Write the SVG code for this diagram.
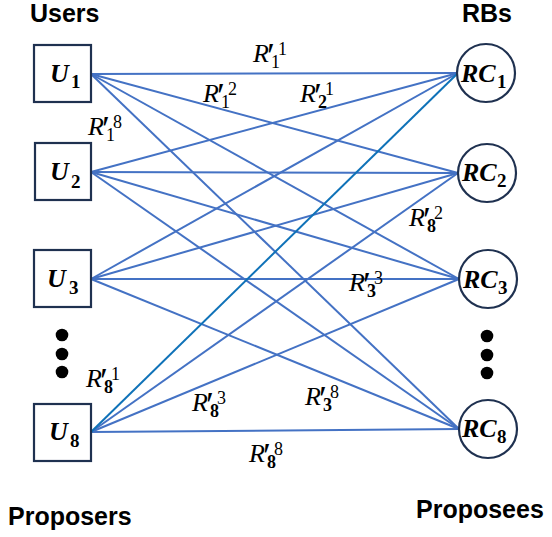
<svg xmlns="http://www.w3.org/2000/svg" width="552" height="537" viewBox="0 0 552 537">
<style>
.title{font-family:"Liberation Sans",Arial,sans-serif;font-weight:bold;font-size:25px;fill:#000}
.box{fill:#fff;stroke:#1f3150;stroke-width:2.2}
.nl{font-family:"Liberation Serif","DejaVu Serif",serif;font-style:italic;font-weight:bold;font-size:26px;fill:#000}
.ns{font-style:normal;font-size:19px}
.ml{font-family:"Liberation Serif","DejaVu Serif",serif;font-style:italic;font-size:26px;fill:#000}
.mp{font-style:normal;font-size:36px}
.ms{font-style:normal;font-size:18px}
.msb{font-style:normal;font-weight:bold;font-size:18px}
.edge{stroke:#4472c4;stroke-width:2;fill:none}
.edge2{stroke:#0f72b8;stroke-width:2;fill:none}
.dot{fill:#000}
</style>
<g id="connectors">
<line class="edge" x1="91" y1="74" x2="458" y2="73"/>
<line class="edge" x1="91" y1="74" x2="458" y2="173"/>
<line class="edge" x1="91" y1="74" x2="459" y2="279"/>
<line class="edge" x1="91" y1="74" x2="459" y2="429"/>
<line class="edge" x1="91" y1="172" x2="458" y2="73"/>
<line class="edge" x1="91" y1="172" x2="458" y2="173"/>
<line class="edge" x1="91" y1="172" x2="459" y2="279"/>
<line class="edge" x1="91" y1="172" x2="459" y2="429"/>
<line class="edge" x1="91" y1="279" x2="458" y2="73"/>
<line class="edge" x1="91" y1="279" x2="458" y2="173"/>
<line class="edge" x1="91" y1="279" x2="459" y2="279"/>
<line class="edge" x1="91" y1="279" x2="459" y2="429"/>
<line class="edge" x1="91" y1="432" x2="458" y2="173"/>
<line class="edge" x1="91" y1="432" x2="459" y2="279"/>
<line class="edge" x1="91" y1="432" x2="459" y2="429"/>
<line class="edge2" x1="91" y1="432" x2="458" y2="73"/>
</g>
<g id="titles">
<text class="title" x="30" y="22">Users</text>
<text class="title" x="462" y="22">RBs</text>
<text class="title" x="8" y="525">Proposers</text>
<text class="title" x="416" y="518">Proposees</text>
</g>
<g id="U1"><rect class="box" x="34" y="45" width="57" height="57"/><text class="nl" x="50" y="82">U<tspan class="ns" x="71" y="88">1</tspan></text></g>
<g id="U2"><rect class="box" x="35" y="143" width="56" height="57"/><text class="nl" x="50" y="180">U<tspan class="ns" x="71" y="188">2</tspan></text></g>
<g id="U3"><rect class="box" x="34" y="250" width="57" height="57"/><text class="nl" x="47" y="287">U<tspan class="ns" x="69" y="294">3</tspan></text></g>
<g id="U8"><rect class="box" x="34" y="404" width="57" height="57"/><text class="nl" x="49" y="440">U<tspan class="ns" x="70" y="447">8</tspan></text></g>
<g id="RC1"><circle class="box" cx="486" cy="73" r="29"/><text class="nl" x="461" y="82">RC<tspan class="ns" x="497" y="88">1</tspan></text></g>
<g id="RC2"><circle class="box" cx="487" cy="173" r="29"/><text class="nl" x="462" y="181">RC<tspan class="ns" x="497" y="187">2</tspan></text></g>
<g id="RC3"><circle class="box" cx="488" cy="279" r="29"/><text class="nl" x="463" y="288">RC<tspan class="ns" x="498" y="294">3</tspan></text></g>
<g id="RC8"><circle class="box" cx="488" cy="429" r="29"/><text class="nl" x="462" y="437">RC<tspan class="ns" x="497" y="443">8</tspan></text></g>
<g id="dots">
<circle class="dot" cx="62" cy="335" r="6.3"/><circle class="dot" cx="62" cy="354" r="6.3"/><circle class="dot" cx="62" cy="372" r="6.3"/>
<circle class="dot" cx="487" cy="336" r="6.3"/><circle class="dot" cx="487" cy="355" r="6.3"/><circle class="dot" cx="487" cy="373" r="6.3"/>
</g>
<g id="labels">
<text class="ml" x="253" y="62">R<tspan class="mp" x="267" y="68">′</tspan><tspan class="ms" x="278" y="55">1</tspan><tspan class="ms" x="271" y="68">1</tspan></text>
<text class="ml" x="203" y="102">R<tspan class="mp" x="217" y="108">′</tspan><tspan class="ms" x="228" y="95">2</tspan><tspan class="ms" x="221" y="108">1</tspan></text>
<text class="ml" x="300" y="102">R<tspan class="mp" x="314" y="108">′</tspan><tspan class="ms" x="325" y="95">1</tspan><tspan class="msb" x="318" y="108">2</tspan></text>
<text class="ml" x="88" y="135">R<tspan class="mp" x="102" y="141">′</tspan><tspan class="ms" x="113" y="128">8</tspan><tspan class="ms" x="106" y="141">1</tspan></text>
<text class="ml" x="409" y="226">R<tspan class="mp" x="423" y="232">′</tspan><tspan class="ms" x="434" y="219">2</tspan><tspan class="msb" x="427" y="232">8</tspan></text>
<text class="ml" x="349" y="291">R<tspan class="mp" x="363" y="297">′</tspan><tspan class="ms" x="374" y="284">3</tspan><tspan class="msb" x="367" y="297">3</tspan></text>
<text class="ml" x="86" y="387">R<tspan class="mp" x="100" y="393">′</tspan><tspan class="ms" x="111" y="380">1</tspan><tspan class="msb" x="104" y="393">8</tspan></text>
<text class="ml" x="192" y="411">R<tspan class="mp" x="206" y="417">′</tspan><tspan class="ms" x="217" y="404">3</tspan><tspan class="msb" x="210" y="417">8</tspan></text>
<text class="ml" x="305" y="405">R<tspan class="mp" x="319" y="411">′</tspan><tspan class="ms" x="330" y="398">8</tspan><tspan class="msb" x="323" y="411">3</tspan></text>
<text class="ml" x="249" y="462">R<tspan class="mp" x="263" y="468">′</tspan><tspan class="ms" x="274" y="455">8</tspan><tspan class="msb" x="267" y="468">8</tspan></text>
</g>
</svg>
